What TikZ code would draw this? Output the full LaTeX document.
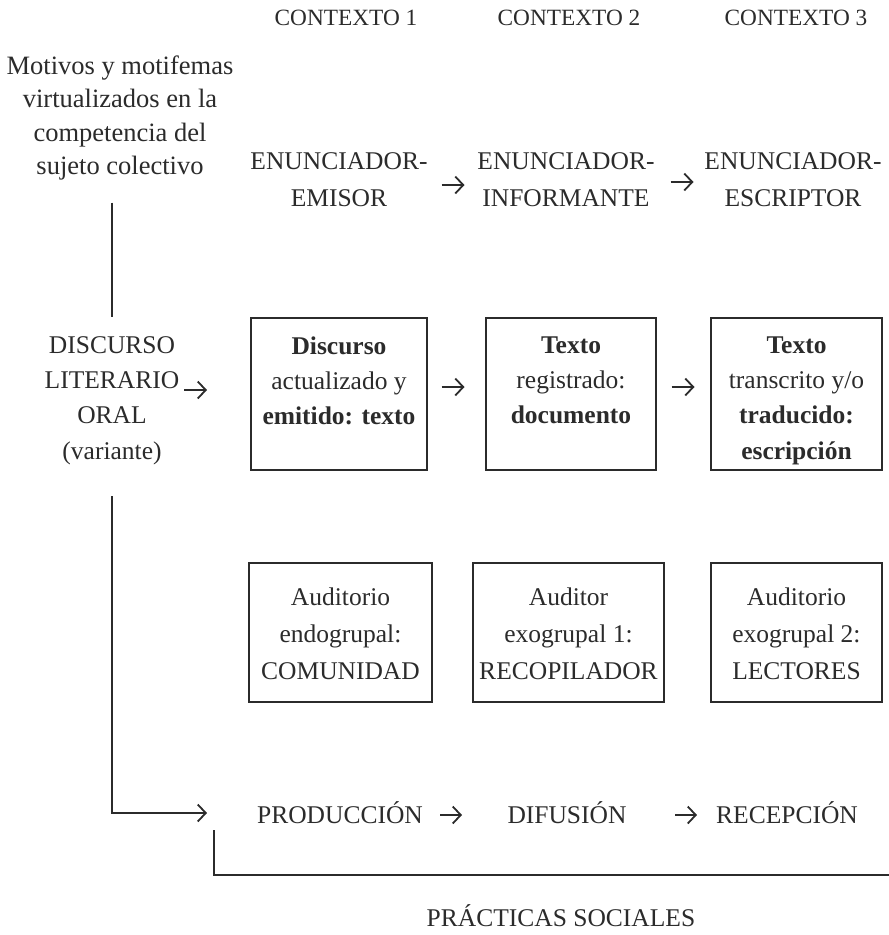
\documentclass[tikz,border=0pt]{standalone}
\usepackage{fontspec}
\setmainfont{Liberation Serif}
\usetikzlibrary{arrows.meta,calc}
\definecolor{ink}{HTML}{2B2B2B}
\begin{document}
\begin{tikzpicture}[x=1pt,y=-1pt,
  every node/.style={inner sep=0pt, outer sep=0pt, text=ink, font=\fontsize{25.5}{35.3}\selectfont},
  ln/.style={draw=ink, line width=1.8pt},
  arr/.style={draw=ink, line width=1.8pt, -{Straight Barb[length=8pt,width=17pt]}},
  box/.style={draw=ink, line width=1.8pt, rectangle},
  txt/.style={align=center, anchor=north},
  ctx/.style={font=\fontsize{23.3}{28}\selectfont},
]
\useasboundingbox (0,0) rectangle (889,935);

% headers
\node[ctx] (c1) at (346,18) {CONTEXTO 1};
\node[ctx] (c2) at (569,18) {CONTEXTO 2};
\node[ctx] (c3) at (796,18) {CONTEXTO 3};

% left texts
\node[txt, font=\fontsize{26.5}{33.3}\selectfont] (mot) at (120,56)
  {Motivos y motifemas\\virtualizados en la\\competencia del\\sujeto colectivo};
\node[txt] (dis) at (112,336.5) {DISCURSO\\LITERARIO\\ORAL\\(variante)};

% enunciadores
\node[txt, font=\fontsize{25.5}{37}\selectfont] (e1) at (339,152.5) {ENUNCIADOR-\\EMISOR};
\node[txt, font=\fontsize{25.5}{37}\selectfont] (e2) at (566,152.5) {ENUNCIADOR-\\INFORMANTE};
\node[txt, font=\fontsize{25.5}{37}\selectfont] (e3) at (793,152.5) {ENUNCIADOR-\\ESCRIPTOR};

% row 1 boxes
\node[box, minimum width=176pt, minimum height=152pt] (b1) at (339,394) {};
\node[box, minimum width=170pt, minimum height=152pt] (b2) at (571,394) {};
\node[box, minimum width=171pt, minimum height=152pt] (b3) at (796.5,394) {};
\node[txt] (t1) at ([yshift=-18.5pt]b1.north) {\textbf{Discurso}\\actualizado y\\\textbf{emitido: texto}};
\node[txt] (t2) at ([yshift=-18.5pt]b2.north) {\textbf{Texto}\\registrado:\\\textbf{documento}};
\node[txt] (t3) at ([yshift=-18.5pt]b3.north) {\textbf{Texto}\\transcrito y/o\\\textbf{traducido:}\\\textbf{escripción}};

% row 2 boxes
\node[box, minimum width=183pt, minimum height=139pt] (a1) at (340.5,632.5) {};
\node[box, minimum width=191pt, minimum height=139pt] (a2) at (568.5,632.5) {};
\node[box, minimum width=171pt, minimum height=139pt] (a3) at (796.5,632.5) {};
\node[txt, font=\fontsize{25.5}{37}\selectfont] (u1) at ([yshift=-24.5pt]a1.north) {Auditorio\\endogrupal:\\COMUNIDAD};
\node[txt, font=\fontsize{25.5}{37}\selectfont] (u2) at ([yshift=-24.5pt]a2.north) {Auditor\\exogrupal 1:\\RECOPILADOR};
\node[txt, font=\fontsize{25.5}{37}\selectfont] (u3) at ([yshift=-24.5pt]a3.north) {Auditorio\\exogrupal 2:\\LECTORES};

% bottom row
\node[anchor=base] (p1) at (340,823) {PRODUCCIÓN};
\node[anchor=base] (p2) at (567,823) {DIFUSIÓN};
\node[anchor=base] (p3) at (787,823) {RECEPCIÓN};
\node[anchor=base] (ps) at (561,926) {PRÁCTICAS SOCIALES};

% connectors
\draw[ln, shorten <=22.5pt, shorten >=19.5pt] (mot.south -| dis.north) -- (dis.north);
\draw[arr, shorten <=31.5pt, shorten >=133pt] (dis.south) |- ([yshift=10pt]p1.base);
\draw[arr, shorten >=44pt] ($(b1.west)+(-67,-4)$) -- ([yshift=4pt]b1.west);

\draw[arr, shorten <=102.5pt, shorten >=101.5pt] ([yshift=-32.5pt]e1.north) -- ([yshift=-32.5pt]e2.north);
\draw[arr, shorten <=104.5pt, shorten >=99.5pt] ([yshift=-29.5pt]e2.north) -- ([yshift=-29.5pt]e3.north);

\draw[arr, shorten <=102.5pt, shorten >=106.5pt] ([yshift=7pt]b1.center) -- ([yshift=7pt]b2.center);
\draw[arr, shorten <=100.5pt, shorten >=102pt] ([yshift=7pt]b2.center) -- ([yshift=7pt]b3.center);

\draw[arr, shorten <=100pt, shorten >=105pt] ([yshift=8pt]p1.base) -- ([yshift=8pt]p2.base);
\draw[arr, shorten <=108pt, shorten >=90pt] ([yshift=8pt]p2.base) -- ([yshift=8pt]p3.base);

% bracket
\coordinate (k1) at (214,830);
\coordinate (k2) at (889,875);
\draw[ln] (k1) |- (k2);
\end{tikzpicture}
\end{document}
